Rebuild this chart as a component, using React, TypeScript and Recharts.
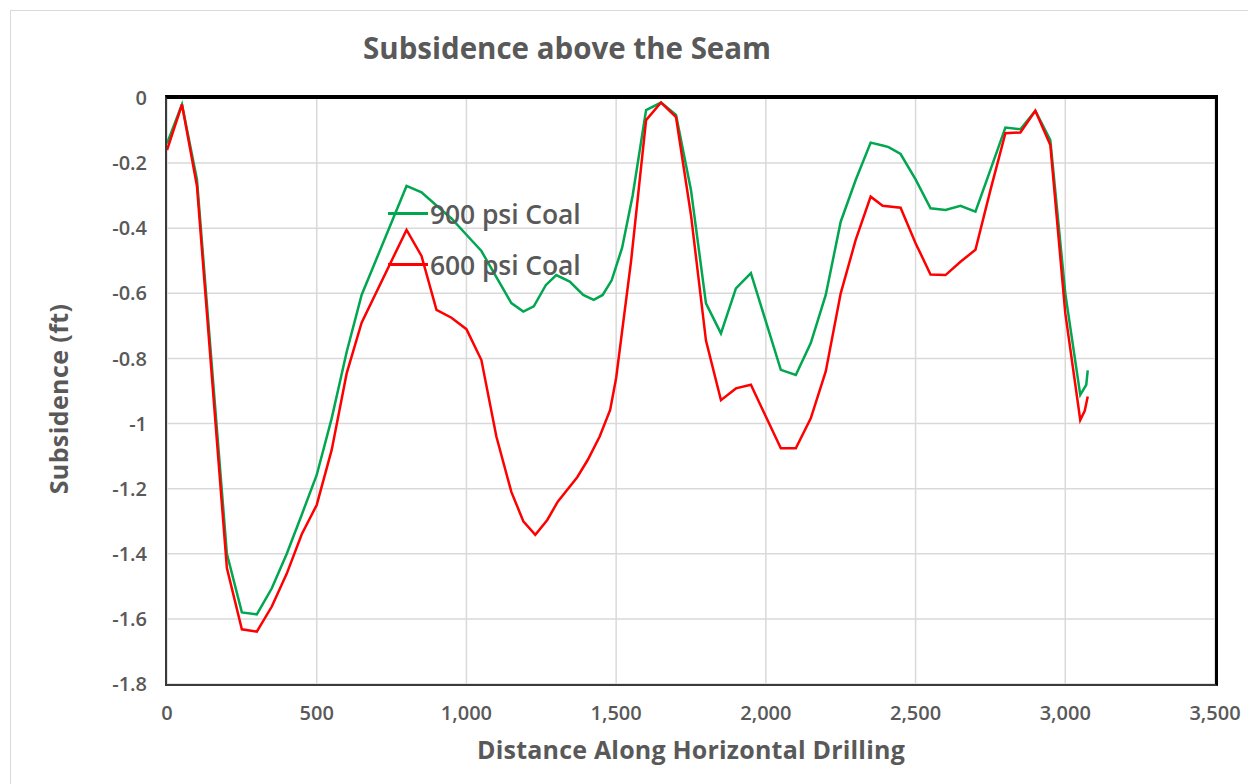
import { CartesianGrid, Legend, Line, LineChart, XAxis, YAxis } from 'recharts'

const coal900Distance = [
  0, 50, 100, 200, 250, 300, 350, 400, 450, 500, 550, 600, 650, 800, 850, 900, 950, 1000, 1050,
  1100, 1150, 1190, 1225, 1265, 1300, 1345, 1390, 1425, 1455, 1485, 1520, 1555, 1600, 1650, 1700,
  1750, 1800, 1850, 1900, 1950, 2050, 2100, 2150, 2200, 2250, 2300, 2350, 2390, 2410, 2450, 2500,
  2550, 2600, 2650, 2700, 2750, 2800, 2850, 2900, 2950, 3000, 3050, 3070, 3075,
]
const coal900Subsidence = [
  -0.14, -0.02, -0.25, -1.4, -1.58, -1.586, -1.506, -1.4, -1.28, -1.158, -0.984, -0.78, -0.605,
  -0.27, -0.29, -0.33, -0.37, -0.42, -0.47, -0.55, -0.63, -0.656, -0.64, -0.575, -0.544, -0.564,
  -0.605, -0.62, -0.605, -0.56, -0.46, -0.3, -0.037, -0.014, -0.052, -0.283, -0.631, -0.723,
  -0.585, -0.538, -0.835, -0.851, -0.753, -0.605, -0.38, -0.252, -0.137, -0.146, -0.151, -0.172,
  -0.25, -0.339, -0.344, -0.331, -0.349, -0.221, -0.091, -0.096, -0.039, -0.129, -0.6, -0.912,
  -0.881, -0.837,
]

const coal600Distance = [
  0, 50, 100, 200, 250, 300, 350, 400, 450, 500, 550, 600, 650, 800, 850, 900, 950, 1000, 1050,
  1100, 1150, 1190, 1230, 1270, 1305, 1370, 1405, 1445, 1480, 1500, 1550, 1600, 1650, 1700, 1750,
  1800, 1850, 1900, 1950, 2050, 2100, 2150, 2200, 2250, 2300, 2350, 2390, 2450, 2500, 2550, 2600,
  2650, 2700, 2750, 2800, 2850, 2900, 2950, 3000, 3050, 3065, 3075,
]
const coal600Subsidence = [
  -0.16, -0.02, -0.27, -1.444, -1.632, -1.639, -1.562, -1.461, -1.34, -1.25, -1.081, -0.846,
  -0.69, -0.405, -0.485, -0.651, -0.675, -0.71, -0.805, -1.04, -1.21, -1.3, -1.342, -1.296, -1.24,
  -1.165, -1.112, -1.04, -0.958, -0.86, -0.5, -0.068, -0.014, -0.059, -0.36, -0.745, -0.928,
  -0.892, -0.881, -1.076, -1.076, -0.984, -0.84, -0.6, -0.436, -0.303, -0.331, -0.337, -0.446,
  -0.542, -0.544, -0.503, -0.466, -0.283, -0.108, -0.106, -0.039, -0.144, -0.661, -0.989, -0.961,
  -0.917,
]

const xTicks = [0, 500, 1000, 1500, 2000, 2500, 3000, 3500]
const yTicks = [0, -0.2, -0.4, -0.6, -0.8, -1, -1.2, -1.4, -1.6, -1.8]

const seriesNames = ['900 psi Coal', '600 psi Coal']
const seriesColors = ['#00a650', '#ff0000']

const coal900 = coal900Distance.map((x, i) => ({ x, y: coal900Subsidence[i] }))
const coal600 = coal600Distance.map((x, i) => ({ x, y: coal600Subsidence[i] }))

const font = "'Open Sans', 'Liberation Sans', sans-serif"
const grey = '#595959'

// legend sits inside the plot, like the Excel original
const LegendBox = () => (
  <div style={{ fontFamily: font }}>
    {seriesNames.map((name, i) => (
      <div key={name} style={{ display: 'flex', alignItems: 'center', height: 51 }}>
        <div style={{ width: 40, height: 3, background: seriesColors[i], marginRight: 2 }} />
        <span style={{ fontSize: 26.5, fontWeight: 600, color: grey, letterSpacing: -0.1 }}>
          {name}
        </span>
      </div>
    ))}
  </div>
)

export default function App() {
  return (
    <div
      style={{
        position: 'absolute',
        left: 0,
        top: 0,
        width: 1248,
        height: 784,
        overflow: 'hidden',
        background: '#fff',
        fontFamily: font,
      }}
    >
      <div
        style={{
          position: 'absolute',
          left: 10,
          top: 10,
          width: 1248,
          height: 784,
          borderLeft: '1px solid #d9d9d9',
          borderTop: '1px solid #d9d9d9',
        }}
      />
      <div
        style={{
          position: 'absolute',
          left: 363,
          top: 27,
          fontSize: 29.5,
          fontWeight: 700,
          color: grey,
        }}
      >
        Subsidence above the Seam
      </div>
      <div
        style={{
          position: 'absolute',
          left: 167,
          width: 1048,
          top: 732,
          textAlign: 'center',
          fontSize: 25,
          fontWeight: 700,
          color: grey,
          letterSpacing: 0.2,
        }}
      >
        Distance Along Horizontal Drilling
      </div>
      <div
        style={{
          position: 'absolute',
          left: 58,
          top: 399,
          transform: 'translate(-50%, -50%) rotate(-90deg)',
          whiteSpace: 'nowrap',
          fontSize: 25,
          fontWeight: 700,
          color: grey,
          letterSpacing: 0.4,
        }}
      >
        Subsidence (ft)
      </div>
      <LineChart
        width={1248}
        height={784}
        margin={{ top: 98, right: 33, bottom: 0, left: 0 }}
        style={{ position: 'absolute', left: 0, top: 0 }}
      >
        <CartesianGrid stroke={'#d9d9d9'} strokeWidth={1.5} />
        <XAxis
          type={'number'}
          dataKey={'x'}
          domain={[0, 3500]}
          ticks={xTicks}
          height={100}
          tickSize={0}
          tickMargin={22}
          axisLine={false}
          tick={{ fontSize: 20, fill: grey, fontFamily: font, fontWeight: 600 }}
          tickFormatter={(v: number) => v.toLocaleString('en-US')}
          allowDataOverflow
        />
        <YAxis
          type={'number'}
          domain={[-1.8, 0]}
          ticks={yTicks}
          width={167}
          tickSize={0}
          tickMargin={20}
          axisLine={false}
          tick={{ fontSize: 20, fill: grey, fontFamily: font, fontWeight: 600 }}
          allowDataOverflow
        />
        <Legend
          layout={'vertical'}
          verticalAlign={'middle'}
          align={'center'}
          content={() => <LegendBox />}
          wrapperStyle={{ left: 388, top: 188, width: 240 }}
        />
        <Line
          data={coal900}
          dataKey={'y'}
          name={seriesNames[0]}
          type={'linear'}
          stroke={seriesColors[0]}
          strokeWidth={2.5}
          dot={false}
          isAnimationActive={false}
        />
        <Line
          data={coal600}
          dataKey={'y'}
          name={seriesNames[1]}
          type={'linear'}
          stroke={seriesColors[1]}
          strokeWidth={2.5}
          dot={false}
          isAnimationActive={false}
        />
      </LineChart>
      <div
        style={{
          position: 'absolute',
          left: 165,
          top: 95,
          width: 1053,
          height: 591,
          boxSizing: 'border-box',
          borderTop: '4px solid #000',
          borderRight: '3px solid #000',
          borderBottom: '2px solid #3a3a3a',
          borderLeft: '2px solid #3a3a3a',
          pointerEvents: 'none',
        }}
      />
    </div>
  )
}
